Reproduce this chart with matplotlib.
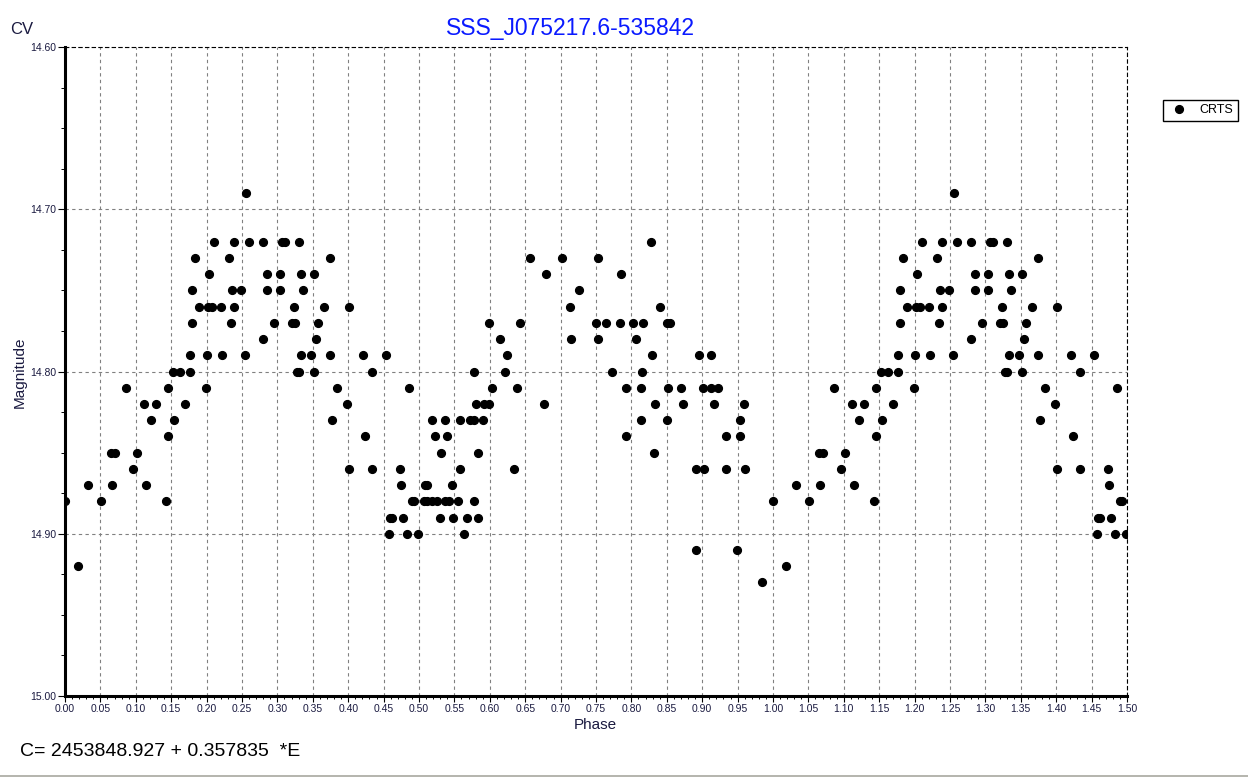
import matplotlib
matplotlib.use('Agg')
import matplotlib.pyplot as plt
from matplotlib.ticker import MultipleLocator, FormatStrFormatter
from matplotlib.lines import Line2D

plt.rcParams['font.family'] = ['Liberation Sans', 'DejaVu Sans']

title = 'SSS_J075217.6-535842'
star_type = 'CV'
series_name = 'CRTS'
ephemeris = 'C= 2453848.927 + 0.357835  *E'

# folded CRTS points, phase 0..1 (read row by row, one row per magnitude)
phase = [0.255,
         0.210, 0.238, 0.260, 0.279, 0.307, 0.311, 0.330, 0.827,
         0.184, 0.232, 0.374, 0.657, 0.702, 0.753,
         0.204, 0.286, 0.304, 0.333, 0.351, 0.680, 0.786,
         0.180, 0.236, 0.249, 0.286, 0.303, 0.336, 0.726,
         0.189, 0.202, 0.208, 0.221, 0.238, 0.324, 0.366, 0.401, 0.713, 0.840,
         0.180, 0.235, 0.295, 0.321, 0.325, 0.358, 0.599, 0.643, 0.750, 0.764, 0.784, 0.802, 0.817, 0.850, 0.854,
         0.279, 0.355, 0.614, 0.715, 0.753, 0.806,
         0.176, 0.200, 0.222, 0.254, 0.333, 0.347, 0.374, 0.421, 0.454, 0.624, 0.829, 0.896, 0.913,
         0.152, 0.162, 0.176, 0.328, 0.331, 0.351, 0.434, 0.578, 0.621, 0.772, 0.815,
         0.086, 0.145, 0.199, 0.384, 0.486, 0.603, 0.639, 0.792, 0.813, 0.852, 0.870, 0.901, 0.913, 0.922,
         0.111, 0.128, 0.170, 0.399, 0.580, 0.592, 0.599, 0.676, 0.833, 0.873, 0.916, 0.959,
         0.121, 0.154, 0.377, 0.519, 0.537, 0.558, 0.572, 0.577, 0.590, 0.813, 0.850, 0.953,
         0.146, 0.424, 0.522, 0.539, 0.793, 0.934, 0.954,
         0.065, 0.071, 0.101, 0.531, 0.583, 0.832,
         0.096, 0.401, 0.434, 0.473, 0.558, 0.634, 0.891, 0.903, 0.933, 0.961,
         0.033, 0.067, 0.115, 0.475, 0.508, 0.512, 0.547,
         0.000, 0.051, 0.142, 0.490, 0.493, 0.507, 0.512, 0.519, 0.525, 0.537, 0.542, 0.555, 0.578,
         0.459, 0.462, 0.477, 0.530, 0.548, 0.568, 0.583,
         0.458, 0.483, 0.498, 0.563,
         0.891, 0.949,
         0.018,
         0.984]

mag = [14.69,
       14.72, 14.72, 14.72, 14.72, 14.72, 14.72, 14.72, 14.72,
       14.73, 14.73, 14.73, 14.73, 14.73, 14.73,
       14.74, 14.74, 14.74, 14.74, 14.74, 14.74, 14.74,
       14.75, 14.75, 14.75, 14.75, 14.75, 14.75, 14.75,
       14.76, 14.76, 14.76, 14.76, 14.76, 14.76, 14.76, 14.76, 14.76, 14.76,
       14.77, 14.77, 14.77, 14.77, 14.77, 14.77, 14.77, 14.77, 14.77, 14.77, 14.77, 14.77, 14.77, 14.77, 14.77,
       14.78, 14.78, 14.78, 14.78, 14.78, 14.78,
       14.79, 14.79, 14.79, 14.79, 14.79, 14.79, 14.79, 14.79, 14.79, 14.79, 14.79, 14.79, 14.79,
       14.80, 14.80, 14.80, 14.80, 14.80, 14.80, 14.80, 14.80, 14.80, 14.80, 14.80,
       14.81, 14.81, 14.81, 14.81, 14.81, 14.81, 14.81, 14.81, 14.81, 14.81, 14.81, 14.81, 14.81, 14.81,
       14.82, 14.82, 14.82, 14.82, 14.82, 14.82, 14.82, 14.82, 14.82, 14.82, 14.82, 14.82,
       14.83, 14.83, 14.83, 14.83, 14.83, 14.83, 14.83, 14.83, 14.83, 14.83, 14.83, 14.83,
       14.84, 14.84, 14.84, 14.84, 14.84, 14.84, 14.84,
       14.85, 14.85, 14.85, 14.85, 14.85, 14.85,
       14.86, 14.86, 14.86, 14.86, 14.86, 14.86, 14.86, 14.86, 14.86, 14.86,
       14.87, 14.87, 14.87, 14.87, 14.87, 14.87, 14.87,
       14.88, 14.88, 14.88, 14.88, 14.88, 14.88, 14.88, 14.88, 14.88, 14.88, 14.88, 14.88, 14.88,
       14.89, 14.89, 14.89, 14.89, 14.89, 14.89, 14.89,
       14.90, 14.90, 14.90, 14.90,
       14.91, 14.91,
       14.92,
       14.93]

# the chart repeats the first half cycle after phase 1
x = list(phase) + [p + 1.0 for p in phase if p < 0.5]
y = list(mag) + [m for p, m in zip(phase, mag) if p < 0.5]

W, H = 1248, 777
fig = plt.figure(figsize=(W / 100, H / 100), dpi=100)
ax = fig.add_axes([65 / W, 1 - 696 / H, (1127 - 65) / W, (696 - 47) / H])

ax.plot(x, y, 'o', color='black', ms=5.6, mec='black', clip_on=True, zorder=3)

ax.set_xlim(0, 1.5)
ax.set_ylim(15.0, 14.6)
ax.xaxis.set_major_locator(MultipleLocator(0.05))
ax.xaxis.set_minor_locator(MultipleLocator(0.01))
ax.yaxis.set_major_locator(MultipleLocator(0.1))
ax.yaxis.set_minor_locator(MultipleLocator(0.025))
ax.xaxis.set_major_formatter(FormatStrFormatter('%.2f'))
ax.yaxis.set_major_formatter(FormatStrFormatter('%.2f'))
ax.tick_params(axis='both', which='major', labelsize=7.5, direction='out', width=0.8, pad=1.5, colors='black', labelcolor='#1a1a40')
ax.tick_params(axis='y', which='major', length=5)
ax.tick_params(axis='y', which='minor', length=3, width=0.7)
ax.tick_params(axis='x', which='major', length=4)
ax.tick_params(axis='x', which='minor', length=2, width=0.7)

ax.grid(True, which='major', color='#808080', linestyle=(0, (3, 3)), linewidth=0.8)
ax.set_axisbelow(True)

for s in ['left', 'bottom']:
    ax.spines[s].set_linewidth(2.2)
    ax.spines[s].set_color('black')
for s in ['top', 'right']:
    ax.spines[s].set_linewidth(0.8)
    ax.spines[s].set_linestyle((0, (3, 3)))
    ax.spines[s].set_color('black')

fig.text(570 / W, 1 - 29 / H, title, color='#0a1aff', fontsize=16.5, ha='center', va='center')
fig.text(10 / W, 1 - 29 / H, star_type, fontsize=12, ha='left', va='center', color='#1a1a40')
fig.text(20 / W, 1 - 372 / H, 'Magnitude', fontsize=11, rotation=90, ha='center', va='center', color='#1a1a40')
fig.text(595 / W, 1 - 725 / H, 'Phase', fontsize=11, ha='center', va='center', color='#1a1a40')
fig.text(20 / W, 1 - 751 / H, ephemeris, fontsize=14, ha='left', va='center', color='black')

handle = Line2D([], [], marker='o', ls='none', color='black', ms=5.6)
leg = ax.legend([handle], [series_name], loc='upper left',
                bbox_to_anchor=(1163 / W, 1 - 100 / H), bbox_transform=fig.transFigure,
                frameon=True, fancybox=False, edgecolor='black', framealpha=1,
                borderaxespad=0, borderpad=0.35, handlelength=1.8, handletextpad=0.8,
                fontsize=9)
leg.get_frame().set_linewidth(1.0)

fig.add_artist(Line2D([0, 1], [1.5 / H, 1.5 / H], transform=fig.transFigure, color='#a8a8a0', lw=1.2))

fig.savefig('out.png', dpi=100)
